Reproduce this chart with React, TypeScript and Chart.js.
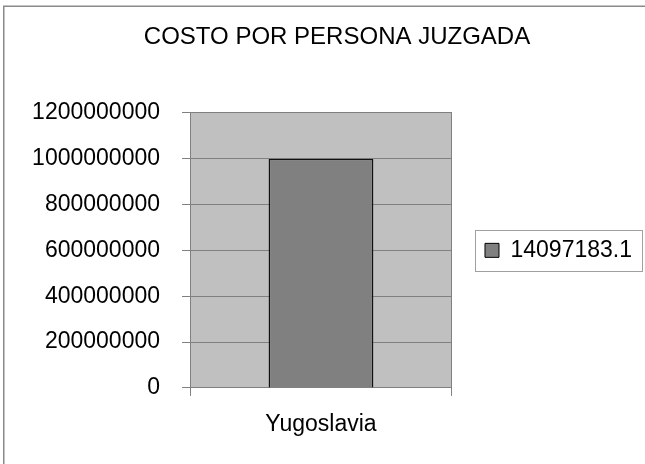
import React, { useEffect, useRef } from "react";
import { Chart, registerables } from "chart.js";

Chart.register(...registerables);

const TITLE = "COSTO POR PERSONA JUZGADA";
const categories: string[] = ["Yugoslavia"];
const seriesLabel = "14097183.1";
const seriesValues: number[] = [1000000000];
const yTicks: number[] = [0, 200000000, 400000000, 600000000, 800000000, 1000000000, 1200000000];

const FONT = "'Liberation Sans', Arial, sans-serif";

const framePlugin = {
  id: "framePlugin",
  beforeDraw(chart: any) {
    const { ctx, chartArea } = chart;
    ctx.save();
    ctx.fillStyle = "#ffffff";
    ctx.fillRect(0, 0, chart.width, chart.height);
    ctx.fillStyle = "#c0c0c0";
    ctx.fillRect(chartArea.left, chartArea.top, chartArea.right - chartArea.left, chartArea.bottom - chartArea.top);
    ctx.restore();
  },
  afterDraw(chart: any) {
    const { ctx } = chart;
    ctx.save();
    ctx.strokeStyle = "#8a8a8a";
    ctx.lineWidth = 1.5;
    ctx.beginPath();
    ctx.moveTo(3.75, chart.height + 5);
    ctx.lineTo(3.75, 6.25);
    ctx.lineTo(chart.width + 5, 6.25);
    ctx.stroke();
    const lg = chart.legend;
    if (lg && lg.legendHitBoxes && lg.legendHitBoxes.length) {
      const hb = lg.legendHitBoxes[0];
      const x0 = hb.left - 10;
      const y0 = hb.top + hb.height / 2 - 20.5;
      ctx.strokeStyle = "#a0a0a0";
      ctx.lineWidth = 1;
      ctx.strokeRect(Math.round(x0) + 0.5, Math.round(y0) + 0.5, 642 - Math.round(x0), 41);
    }
    ctx.restore();
  },
};

export default function App() {
  const ref = useRef<HTMLCanvasElement | null>(null);
  useEffect(() => {
    if (!ref.current) return;
    const chart = new Chart(ref.current, {
      type: "bar",
      data: {
        labels: categories,
        datasets: [
          {
            label: seriesLabel,
            data: seriesValues,
            backgroundColor: "#808080",
            borderColor: "#111111",
            borderWidth: 1.6,
            barPercentage: 0.4,
            categoryPercentage: 1,
          },
        ],
      },
      options: {
        animation: false,
        responsive: false,
        maintainAspectRatio: false,
        layout: { padding: { left: 32, right: 3, top: 0, bottom: 11.5 } },
        plugins: {
          title: {
            display: true,
            text: TITLE,
            color: "#000000",
            font: { family: FONT, size: 24, weight: "normal" },
            padding: { top: 23, bottom: 61 },
          },
          legend: {
            display: true,
            position: "right",
            fullSize: false,
            maxWidth: 220,
            labels: {
              color: "#000000",
              font: { family: FONT, size: 23 },
              boxWidth: 14,
              boxHeight: 14,
              padding: 33,
              generateLabels: (c: any) => [
                {
                  text: seriesLabel,
                  fillStyle: "#808080",
                  strokeStyle: "#000000",
                  lineWidth: 1,
                  hidden: false,
                  datasetIndex: 0,
                },
              ],
            },
          },
          tooltip: { enabled: false },
        },
        scales: {
          x: {
            offset: true,
            grid: { display: true, offset: true, color: "#808080", lineWidth: 1, tickLength: 8, drawOnChartArea: true },
            border: { display: true, color: "#808080", width: 1 },
            ticks: { color: "#000000", font: { family: FONT, size: 23 }, padding: 14.5 },
          },
          y: {
            min: 0,
            max: 1200000000,
            afterBuildTicks: (axis: any) => {
              axis.ticks = yTicks.map((v) => ({ value: v }));
            },
            afterFit: (axis: any) => {
              axis.width = 158;
            },
            grid: { color: "#808080", lineWidth: 1, tickLength: 8 },
            border: { display: true, color: "#808080", width: 1 },
            ticks: {
              color: "#000000",
              font: { family: FONT, size: 23 },
              padding: 22,
              callback: (v: any) => String(v),
            },
          },
        },
      },
      plugins: [framePlugin],
    });
    return () => chart.destroy();
  }, []);
  return (
    <div style={{ position: "fixed", left: 0, top: 0, width: 645, height: 464, background: "#fff" }}>
      <canvas ref={ref} width={645} height={464} style={{ display: "block", width: 645, height: 464 }} />
    </div>
  );
}
